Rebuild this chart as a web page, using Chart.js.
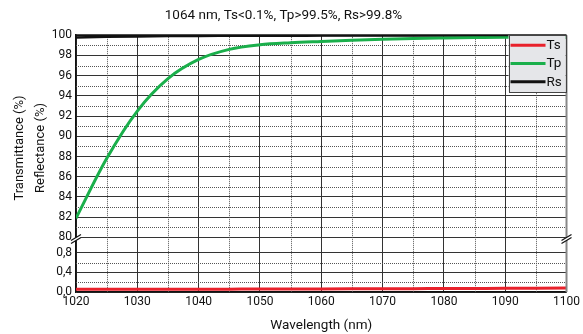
<!DOCTYPE html>
<html>
<head>
<meta charset="utf-8">
<script src="https://cdn.jsdelivr.net/npm/chart.js@4.4.0/dist/chart.umd.min.js"></script>
<style>
html, body { margin: 0; padding: 0; background: #fff; }
#wrap { width: 583px; height: 334px; }
</style>
</head>
<body>
<div id="wrap"><canvas id="chart1"></canvas></div>
<script>
// wavelength (nm)
const wavelengths = [1020, 1025, 1030, 1035, 1040, 1045, 1050, 1055, 1060, 1065, 1070, 1075, 1080, 1085, 1090, 1095, 1100];
// transmittance s (%), lower axis
const ts = [0.055, 0.055, 0.055, 0.055, 0.057, 0.058, 0.06, 0.06, 0.062, 0.064, 0.066, 0.068, 0.07, 0.072, 0.074, 0.077, 0.08];
// transmittance p (%)
const tp = [81.9, 87.8, 92.5, 95.7, 97.6, 98.6, 99.05, 99.25, 99.38, 99.5, 99.6, 99.68, 99.73, 99.77, 99.8, 99.8, 99.78];
// reflectance s (%)
const rs = [99.78, 99.84, 99.88, 99.91, 99.93, 99.94, 99.95, 99.95, 99.96, 99.96, 99.96, 99.96, 99.96, 99.96, 99.96, 99.96, 99.96];

const seriesNames = ["Ts", "Tp", "Rs"];
const seriesColors = ["#e8212b", "#1aaf4b", "#111111"];
const titleText = "1064 nm, Ts<0.1%, Tp>99.5%, Rs>99.8%";
const yTitle = ["Transmittance (%)", "Reflectance (%)"];
const xTitle = "Wavelength (nm)";

const FONT = "Roboto, 'DejaVu Sans', sans-serif";
const clear = "rgba(0,0,0,0)";

const isMajorUp = (v) => Math.round(v) % 2 === 0;
const isMajorLow = (v) => Math.round(v * 10) % 4 === 0 && v < 0.9;
const isMajorX = (v) => Math.round(v) % 10 === 0;

const pts = (arr) => wavelengths.map((w, i) => ({ x: w, y: arr[i] }));

// dotted minor grid lines, taken from the scales' own ticks
const minorGrid = {
    id: "minorGrid",
    beforeDatasetsDraw(chart) {
        const { ctx, chartArea: a, scales } = chart;
        ctx.save();
        ctx.strokeStyle = "#555";
        ctx.lineWidth = 1;
        ctx.setLineDash([1, 1]);
        ctx.beginPath();
        scales.y.ticks.forEach((t) => {
            if (isMajorUp(t.value)) return;
            const y = Math.round(scales.y.getPixelForValue(t.value)) + 0.5;
            ctx.moveTo(a.left, y); ctx.lineTo(a.right, y);
        });
        scales.yLow.ticks.forEach((t) => {
            if (isMajorLow(t.value) || t.value > 0.7) return;
            const y = Math.round(scales.yLow.getPixelForValue(t.value)) + 0.5;
            ctx.moveTo(a.left, y); ctx.lineTo(a.right, y);
        });
        scales.x.ticks.forEach((t) => {
            if (isMajorX(t.value)) return;
            const x = Math.round(scales.x.getPixelForValue(t.value)) + 0.5;
            ctx.moveTo(x, a.top); ctx.lineTo(x, a.bottom);
        });
        ctx.stroke();
        ctx.restore();
    }
};

// frame, axis break marks, legend box and y title
const decor = {
    id: "decor",
    afterDatasetsDraw(chart) {
        const { ctx, chartArea: a, scales } = chart;
        ctx.save();
        // top + right border
        ctx.strokeStyle = "#111";
        ctx.lineWidth = 2;
        ctx.beginPath();
        ctx.moveTo(a.left, a.top); ctx.lineTo(a.right, a.top);
        ctx.stroke();
        ctx.strokeStyle = "#888";
        ctx.beginPath();
        ctx.moveTo(a.right, a.top); ctx.lineTo(a.right, a.bottom);
        ctx.stroke();

        // break marks
        const yb = scales.y.bottom;
        [a.left, a.right].forEach((x) => {
            ctx.fillStyle = "#fff";
            ctx.beginPath();
            ctx.moveTo(x - 5, yb + 3); ctx.lineTo(x + 5, yb - 3);
            ctx.lineTo(x + 5, yb); ctx.lineTo(x - 5, yb + 6);
            ctx.closePath();
            ctx.fill();
            ctx.strokeStyle = "#111";
            ctx.lineWidth = 1.2;
            ctx.beginPath();
            ctx.moveTo(x - 5, yb + 3); ctx.lineTo(x + 5, yb - 3);
            ctx.moveTo(x - 5, yb + 6); ctx.lineTo(x + 5, yb);
            ctx.stroke();
        });

        // legend
        const bw = 57, bh = 57;
        const bx = a.right - bw - 1, by = a.top;
        ctx.fillStyle = "#e5e6e9";
        ctx.fillRect(bx, by, bw, bh);
        ctx.strokeStyle = "#444";
        ctx.lineWidth = 1;
        ctx.strokeRect(Math.round(bx) + 0.5, Math.round(by) + 0.5, bw, bh);
        ctx.font = "13.5px " + FONT;
        ctx.textBaseline = "middle";
        ctx.textAlign = "left";
        chart.data.datasets.forEach((ds, i) => {
            const ly = by + 10 + i * 18.3;
            ctx.strokeStyle = ds.borderColor;
            ctx.lineWidth = 3;
            ctx.beginPath();
            ctx.moveTo(bx + 2, ly); ctx.lineTo(bx + 37, ly);
            ctx.stroke();
            ctx.fillStyle = "#111";
            ctx.fillText(ds.label, bx + 38, ly + 0.5);
        });

        // y title (two lines)
        ctx.font = "13px " + FONT;
        ctx.translate(0, 148);
        ctx.rotate(-Math.PI / 2);
        ctx.textAlign = "center";
        ctx.fillStyle = "#111";
        ctx.fillText(yTitle[0], 0, 20);
        ctx.fillText(yTitle[1], 0, 40.5);
        ctx.restore();
    }
};

new Chart(document.getElementById("chart1"), {
    type: "line",
    data: {
        datasets: [
            { label: seriesNames[0], data: pts(ts), yAxisID: "yLow", borderColor: seriesColors[0], borderWidth: 3 },
            { label: seriesNames[1], data: pts(tp), yAxisID: "y", borderColor: seriesColors[1], borderWidth: 3 },
            { label: seriesNames[2], data: pts(rs), yAxisID: "y", borderColor: seriesColors[2], borderWidth: 2.5 },
        ]
    },
    options: {
        responsive: true,
        maintainAspectRatio: false,
        animation: false,
        layout: { padding: { left: 0, right: 16, top: 0, bottom: 0 } },
        elements: {
            point: { radius: 0 },
            line: { cubicInterpolationMode: "monotone" }
        },
        scales: {
            x: {
                type: "linear",
                min: 1020,
                max: 1100,
                afterFit: (s) => { s.height = 42; },
                ticks: {
                    stepSize: 5,
                    padding: 3,
                    color: "#111",
                    font: { family: FONT, size: 12 },
                    autoSkip: false,
                    maxRotation: 0,
                    callback: (v) => isMajorX(v) ? String(v) : ""
                },
                grid: {
                    drawTicks: false,
                    color: (c) => c.tick && isMajorX(c.tick.value) ? "#333" : clear
                },
                border: { color: "#111", width: 1.5 },
                title: {
                    display: true,
                    text: xTitle,
                    color: "#111",
                    font: { family: FONT, size: 13.5 },
                    padding: { top: 0, bottom: 0 }
                }
            },
            // lower part of the broken axis (defined first so it sits below)
            yLow: {
                type: "linear",
                position: "left",
                stack: "v",
                stackWeight: 54.5,
                min: 0,
                max: 1.11,
                afterFit: (s) => { s.width = 76; },
                ticks: {
                    stepSize: 0.2,
                    padding: 4,
                    color: "#111",
                    font: { family: FONT, size: 12 },
                    autoSkip: false,
                    callback: (v) => isMajorLow(v) ? v.toFixed(1).replace(".", ",") : ""
                },
                grid: {
                    drawTicks: false,
                    color: (c) => c.tick && isMajorLow(c.tick.value) ? "#333" : clear
                },
                border: { color: "#111", width: 1.5 }
            },
            y: {
                type: "linear",
                position: "left",
                stack: "v",
                stackWeight: 202,
                min: 80,
                max: 100,
                afterFit: (s) => { s.width = 76; },
                ticks: {
                    stepSize: 1,
                    padding: 4,
                    color: "#111",
                    font: { family: FONT, size: 12 },
                    autoSkip: false,
                    callback: (v) => isMajorUp(v) ? String(v) : ""
                },
                grid: {
                    drawTicks: false,
                    color: (c) => c.tick && isMajorUp(c.tick.value) ? "#333" : clear
                },
                border: { color: "#111", width: 1.5 }
            }
        },
        plugins: {
            legend: { display: false },
            tooltip: { enabled: false },
            title: {
                display: true,
                text: titleText,
                color: "#111",
                font: { family: FONT, size: 13.5, weight: "normal" },
                padding: { top: 8, bottom: 11 }
            }
        }
    },
    plugins: [minorGrid, decor]
});
</script>
</body>
</html>
